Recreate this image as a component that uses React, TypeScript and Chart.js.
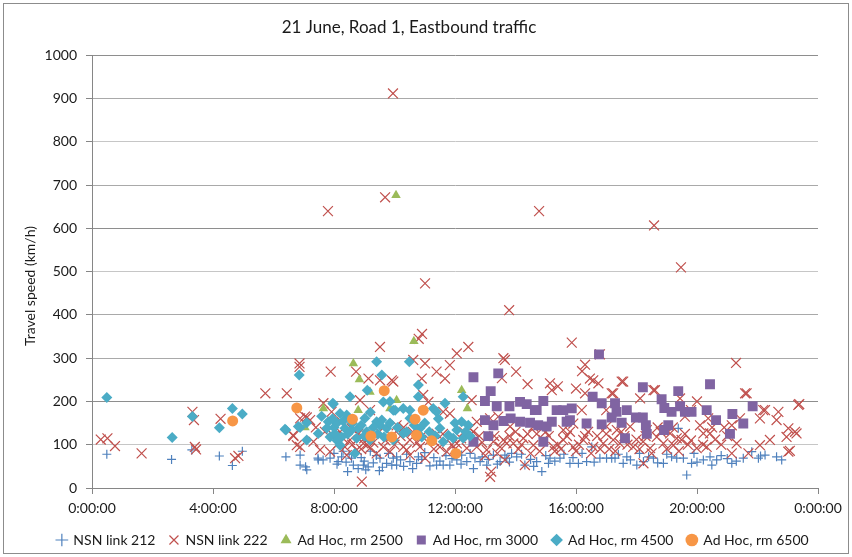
import { useEffect, useRef } from "react";
import { Chart, registerables } from "chart.js";

Chart.register(...registerables);

const TITLE = "21 June, Road 1, Eastbound traffic";
const Y_TITLE = "Travel speed (km/h)";
const X_TICK_HOURS = [0, 4, 8, 12, 16, 20, 24];
const Y_MIN = 0;
const Y_MAX = 1000;
const Y_STEP = 100;

const SERIES_NAMES = [
  "NSN link 212",
  "NSN link 222",
  "Ad Hoc, rm 2500",
  "Ad Hoc, rm 3000",
  "Ad Hoc, rm 4500",
  "Ad Hoc, rm 6500",
];

// [hour of day, speed km/h]
const nsn212: [number, number][] = [
  [0.49, 78], [2.63, 66], [3.3, 88], [4.21, 74], [4.64, 52], [4.97, 85], [6.41, 72], [6.88, 76],
  [6.88, 53], [7.06, 49], [7.1, 42], [7.47, 69], [7.64, 65], [7.48, 65], [7.87, 69], [8.14, 61],
  [8.25, 72], [8.58, 69], [8.64, 53], [8.8, 45], [8.97, 53], [9.13, 49], [9.52, 69], [9.74, 57],
  [9.96, 69], [10.07, 53], [9.91, 53], [10.07, 72], [10.51, 61], [10.73, 57], [10.79, 72], [11.17, 51],
  [11.39, 53], [11.61, 53], [11.83, 53], [12.06, 65], [12.22, 76], [12.39, 61], [12.61, 45], [12.66, 69],
  [12.83, 61], [13.05, 53], [13.27, 76], [13.49, 61], [13.65, 76], [13.71, 69], [13.87, 80], [14.04, 72],
  [14.31, 53], [14.7, 61], [14.87, 38], [15.09, 57], [15.14, 69], [15.47, 69], [15.8, 57], [16.08, 57],
  [16.35, 61], [16.52, 95], [16.79, 69], [17.01, 69], [17.18, 69], [17.29, 69], [17.56, 57], [17.68, 72],
  [18.01, 53], [18.23, 61], [18.56, 69], [18.89, 57], [19.16, 72], [19.33, 69], [19.38, 138], [19.55, 69],
  [19.66, 30], [19.82, 57], [20.21, 65], [20.43, 72], [20.49, 53], [20.65, 65], [21.15, 57], [21.53, 69],
  [21.81, 84], [22.03, 69], [22.25, 76], [22.63, 72], [22.8, 65],
  [8.0, 80], [8.1, 55], [8.3, 85], [8.4, 60], [8.5, 78], [8.7, 82], [8.9, 70], [9.0, 62], [9.2, 85],
  [9.3, 58], [9.4, 75], [9.6, 48], [9.8, 80], [10.2, 65], [10.3, 50], [10.4, 78], [10.6, 45], [10.9, 66],
  [11.0, 82], [11.3, 70], [11.5, 62], [11.7, 75], [11.9, 68], [12.2, 55], [12.5, 80], [12.9, 72], [13.1, 66],
  [13.4, 55], [13.8, 60], [14.2, 78], [14.5, 66], [14.6, 50], [15.0, 75], [15.3, 62], [15.6, 78], [15.9, 70],
  [16.2, 80], [16.6, 60], [17.4, 78], [17.8, 65], [18.1, 80], [18.4, 72], [18.7, 58], [19.0, 78], [19.9, 80],
  [20.0, 60], [20.8, 75], [21.0, 68], [21.3, 62], [22.1, 74], [8.45, 38], [9.05, 42], [9.5, 40],
];

const nsn222: [number, number][] = [
  [0.29, 112], [0.51, 115], [0.76, 97], [1.64, 80], [3.32, 176], [3.37, 157], [3.4, 95], [3.44, 89],
  [4.25, 160], [4.73, 69], [4.84, 74], [5.73, 219], [6.44, 219], [6.86, 288], [6.86, 280], [7.89, 269],
  [6.66, 120], [6.77, 99], [6.88, 161], [7.1, 163],
  [9.52, 326], [7.8, 640], [9.69, 672], [9.95, 912], [8.73, 269], [9.14, 253], [9.52, 249], [9.96, 246],
  [8.86, 203], [9.19, 180], [7.65, 196], [7.92, 176], [7.04, 165], [7.21, 157], [6.65, 122], [6.88, 95],
  [7.32, 107], [7.54, 88], [7.87, 84], [8.14, 103], [8.36, 95], [8.53, 111], [8.75, 88], [8.97, 103],
  [9.19, 92], [9.41, 80], [9.63, 95], [9.85, 84], [8.92, 15], [8.42, 76], [8.58, 138], [8.25, 153], [9.19, 118],
  [10.62, 296], [11.01, 288], [12.06, 311], [12.44, 326], [11.83, 284], [11.39, 269], [11.67, 253], [10.9, 253],
  [9.91, 249], [13.65, 296], [10.95, 215], [11.12, 199], [11.83, 172], [11.61, 176], [12.55, 203], [12.72, 153],
  [12.5, 138], [10.07, 145], [13.16, 161], [13.43, 165], [10.51, 111], [10.29, 95], [10.84, 95], [11.17, 111],
  [11.5, 95], [11.73, 84], [12.06, 103], [12.39, 92], [12.72, 95], [13.05, 88], [13.27, 107], [13.49, 95],
  [13.16, 26], [13.2, 38], [13.71, 103], [11.01, 69], [10.51, 76],
  [11.01, 473], [13.79, 411], [10.91, 356], [10.8, 345], [15.86, 336], [13.6, 300],
  [14.78, 640], [18.58, 607], [19.47, 510],
  [14.02, 269], [15.14, 242], [15.2, 226], [16.57, 249], [16.74, 242], [16.3, 219], [17.23, 219], [16.19, 180],
  [13.82, 142], [14.59, 142], [15.58, 134], [15.91, 149], [17.01, 142], [13.6, 111], [13.93, 103], [14.26, 115],
  [14.59, 99], [14.92, 111], [15.25, 95], [15.58, 111], [15.91, 95], [16.24, 111], [16.57, 95], [16.9, 103],
  [17.23, 111], [13.65, 65], [14.31, 53],
  [16.79, 309], [16.46, 253], [17.51, 246], [18.61, 226], [17.56, 246], [18.12, 207], [18.56, 226], [17.18, 219],
  [19.44, 207], [19.6, 165], [20.21, 126], [20.43, 126], [20.37, 161], [17.35, 134], [17.79, 142], [18.34, 134],
  [18.67, 118], [19.11, 126], [19.33, 115], [17.45, 103], [17.89, 95], [18.22, 107], [18.45, 92], [18.89, 103],
  [19.22, 99], [19.49, 111], [19.99, 92], [20.32, 95], [18.23, 57],
  [21.29, 289], [21.59, 219], [22.19, 180], [22.69, 176], [22.08, 161], [22.63, 157], [23.35, 192], [23.02, 138],
  [23.24, 130], [22.96, 118], [21.15, 145], [21.42, 161], [21.31, 103], [21.15, 80], [21.7, 80], [22.08, 99],
  [22.41, 111], [23.02, 84], [23.38, 194], [23.07, 86], [23.29, 126], [21.64, 219], [22.25, 180],
  [8.0, 120], [8.2, 130], [8.6, 100], [8.8, 125], [9.0, 115], [9.3, 105], [9.5, 130], [9.7, 110], [10.0, 100],
  [10.2, 120], [10.4, 88], [10.6, 130], [10.75, 105], [11.3, 90], [11.4, 125], [11.9, 100], [12.2, 115],
  [12.6, 130], [12.9, 105], [13.3, 120], [14.1, 90], [14.4, 125], [14.8, 85], [15.0, 130], [15.4, 100],
  [15.7, 120], [16.0, 85], [16.4, 130], [16.7, 120], [17.1, 90], [17.6, 120], [18.0, 112], [18.8, 130],
  [19.7, 100], [20.1, 145], [20.6, 112], [20.9, 140], [19.8, 180], [20.0, 200], [17.0, 180], [16.0, 230],
  [14.4, 240], [15.4, 235], [13.55, 254], [16.2, 270], [16.3, 285],
  [13.0, 75], [13.4, 80], [13.8, 120], [14.0, 130], [14.2, 100], [14.5, 80], [14.7, 125], [15.1, 120],
  [15.3, 85], [15.5, 90], [15.8, 130], [16.1, 100], [16.3, 120], [16.5, 80], [16.8, 90], [17.0, 125],
  [17.3, 85], [17.5, 130], [17.7, 100], [18.1, 90], [18.3, 120], [18.5, 80], [18.7, 140], [19.0, 90],
  [19.2, 140], [19.4, 85], [19.6, 125], [19.8, 110], [20.2, 100], [20.5, 140], [20.8, 100], [21.0, 120],
  [9.1, 100], [9.9, 120], [10.3, 140], [10.9, 120], [11.6, 125], [12.0, 90], [12.3, 130], [12.8, 120],
  [8.3, 115], [7.7, 130], [7.4, 140], [8.9, 90],
];

const adHoc2500: [number, number][] = [
  [10.05, 677], [10.64, 339], [8.64, 288], [8.84, 251], [9.19, 222], [7.65, 184], [10.07, 203],
  [9.85, 184], [7.04, 140], [8.8, 180], [12.22, 226], [12.41, 184],
];

const adHoc3000: [number, number][] = [
  [12.61, 256], [13.43, 265], [13.18, 224], [12.99, 201], [13.38, 189], [13.8, 189], [14.15, 199], [14.37, 194],
  [14.7, 180], [14.92, 201], [15.36, 180], [12.99, 157], [13.27, 145], [13.6, 155], [13.84, 161], [14.15, 153],
  [14.48, 151], [14.75, 145], [15.03, 142], [13.1, 120], [12.61, 107], [14.92, 107], [16.76, 309], [14.64, 180],
  [15.58, 180], [15.86, 184], [15.2, 153], [15.69, 153], [15.8, 157], [16.35, 149], [16.85, 147], [16.55, 211],
  [16.85, 196], [17.29, 196], [17.34, 176], [17.18, 163], [17.51, 151], [17.68, 180], [17.62, 115], [17.98, 163],
  [18.21, 163], [18.21, 233], [18.31, 145], [18.34, 125], [18.83, 205], [18.92, 185], [19.16, 176], [19.05, 145],
  [18.91, 134], [19.38, 224], [19.44, 189], [19.6, 176], [19.82, 176], [20.32, 180], [20.43, 240], [20.63, 157],
  [21.17, 171], [21.09, 125], [21.53, 149], [21.84, 189],
];

const adHoc4500: [number, number][] = [
  [0.49, 209], [2.65, 117], [3.32, 165], [4.21, 139], [4.64, 184], [4.97, 171], [6.41, 134], [6.85, 261],
  [6.82, 142], [7.1, 151], [7.1, 111], [7.59, 166], [7.98, 194], [7.48, 126], [7.81, 153],
  [9.41, 292], [9.58, 261], [9.1, 226], [8.53, 211], [7.96, 196], [9.63, 199], [9.96, 180], [8.2, 172],
  [8.42, 169], [9.02, 161], [9.41, 153], [9.58, 157], [6.38, 136], [6.88, 140], [7.76, 138], [7.87, 118],
  [8.03, 126], [8.25, 118], [8.36, 138], [8.58, 134], [8.8, 138], [8.75, 115], [9.08, 130], [9.19, 111],
  [9.52, 145], [9.74, 138], [8.2, 99], [8.69, 80],
  [10.49, 292], [10.79, 238], [10.79, 211], [12.27, 211], [11.67, 196], [10.02, 180], [10.29, 184], [10.51, 180],
  [11.28, 184], [11.39, 176], [10.51, 161], [10.84, 138], [10.29, 126], [11.5, 138], [11.78, 122], [12.06, 134],
  [12.22, 153], [12.44, 145], [12.27, 115], [11.61, 107], [11.94, 115], [9.96, 111], [10.9, 118],
  [8.0, 140], [8.1, 150], [8.3, 155], [8.45, 125], [8.6, 150], [8.9, 145], [9.0, 120], [9.3, 140], [9.45, 125],
  [9.65, 118], [9.85, 150], [10.1, 140], [10.4, 130], [10.65, 145], [11.0, 150], [11.15, 130], [11.35, 120],
  [11.45, 160], [12.0, 150], [12.35, 130], [12.5, 120], [8.1, 110], [7.95, 160], [9.2, 175], [9.85, 200],
];

const adHoc6500: [number, number][] = [
  [4.65, 155], [6.77, 185], [8.61, 159], [9.66, 225], [9.22, 120], [9.91, 118], [10.95, 180], [10.68, 159],
  [10.73, 122], [11.23, 109], [12.03, 80],
];

const COLORS = ["#4F81BD", "#C0504D", "#9BBB59", "#8064A2", "#4BACC6", "#F79646"];
const FONT = "Lato, 'Open Sans', sans-serif";

const toXY = (arr: [number, number][]) => arr.map(([h, v]) => ({ x: h, y: v }));

const decor = {
  id: "decor",
  afterLayout(chart: any) {
    if (chart.legend) {
      chart.legend.left += 24;
      chart.legend.right += 24;
    }
  },
  afterDraw(chart: any) {
    const ctx = chart.ctx;
    ctx.save();
    ctx.strokeStyle = "#8c8c8c";
    ctx.lineWidth = 1;
    ctx.strokeRect(3.5, 3.5, chart.width - 7, chart.height - 7);
    ctx.translate(30, 286);
    ctx.rotate(-Math.PI / 2);
    ctx.fillStyle = "#1a1a1a";
    ctx.font = `14px ${FONT}`;
    ctx.textAlign = "center";
    ctx.textBaseline = "middle";
    ctx.fillText(Y_TITLE, 0, 0);
    ctx.restore();
  },
};

export default function App() {
  const ref = useRef<HTMLCanvasElement>(null);
  useEffect(() => {
    document.body.style.margin = "0";
    const seriesData = [nsn212, nsn222, adHoc2500, adHoc3000, adHoc4500, adHoc6500];
    const styles = [
      { pointStyle: "cross", radius: 4.5, fill: false },
      { pointStyle: "crossRot", radius: 7, fill: false },
      { pointStyle: "triangle", radius: 5.5, fill: true },
      { pointStyle: "rect", radius: 7, fill: true },
      { pointStyle: "rectRot", radius: 5.5, fill: true },
      { pointStyle: "circle", radius: 5.5, fill: true },
    ];
    const datasets = seriesData.map((d, i) => ({
      label: SERIES_NAMES[i],
      data: toXY(d),
      pointStyle: styles[i].pointStyle,
      pointRadius: styles[i].radius,
      borderColor: COLORS[i],
      backgroundColor: COLORS[i],
      borderWidth: styles[i].fill ? 0 : 1.2,
      showLine: false,
    }));
    // later series should paint on top: dataset index 0 is drawn last in Chart.js
    datasets.reverse();
    const chart = new Chart(ref.current!, {
      type: "scatter",
      data: { datasets } as any,
      options: {
        responsive: false,
        animation: false,
        events: [],
        layout: { padding: { left: 0, right: 34, top: 0, bottom: 0 } },
        plugins: {
          tooltip: { enabled: false },
          title: {
            display: true,
            text: TITLE,
            color: "#1a1a1a",
            font: { family: FONT, size: 17, weight: "normal" },
            padding: { top: 17, bottom: 18 },
          },
          legend: {
            display: true,
            position: "bottom",
            reverse: true,
            labels: {
              usePointStyle: true,
              color: "#1a1a1a",
              font: { family: FONT, size: 14 },
              padding: 14,
              boxWidth: 9,
              boxHeight: 9,
            },
          },
        },
        scales: {
          x: {
            type: "linear",
            min: 0,
            max: 24,
            afterFit: (s: any) => {
              s.height = 31;
            },
            afterBuildTicks: (s: any) => {
              s.ticks = X_TICK_HOURS.map((v) => ({ value: v }));
            },
            ticks: {
              color: "#1a1a1a",
              font: { family: FONT, size: 14 },
              padding: 6,
              maxRotation: 0,
              autoSkip: false,
              callback: (v: any) => `${Number(v) % 24}:00:00`,
            },
            grid: { drawOnChartArea: false, drawTicks: true, tickLength: 6, tickColor: "#868686" },
            border: { color: "#868686", width: 1 },
          },
          y: {
            min: Y_MIN,
            max: Y_MAX,
            afterFit: (s: any) => {
              s.width = 92;
            },
            ticks: {
              stepSize: Y_STEP,
              color: "#1a1a1a",
              font: { family: FONT, size: 14 },
              padding: 9,
              callback: (v: any) => String(v),
            },
            grid: {
              color: (c: any) => {
                const v = c.tick ? c.tick.value : 0;
                if (v % 400 === 200) return "#8e8e8e";
                if (v === 800 || v === 500 || v === 100) return "#c6c6c6";
                return "#a9a9a9";
              },
              tickColor: "#868686",
              tickLength: 6,
            },
            border: { color: "#868686", width: 1 },
          },
        },
      },
      plugins: [decor],
    } as any);
    return () => chart.destroy();
  }, []);
  return (
    <div style={{ position: "absolute", left: 0, top: 0, width: 852, height: 557 }}>
      <canvas ref={ref} width={852} height={557} />
    </div>
  );
}
